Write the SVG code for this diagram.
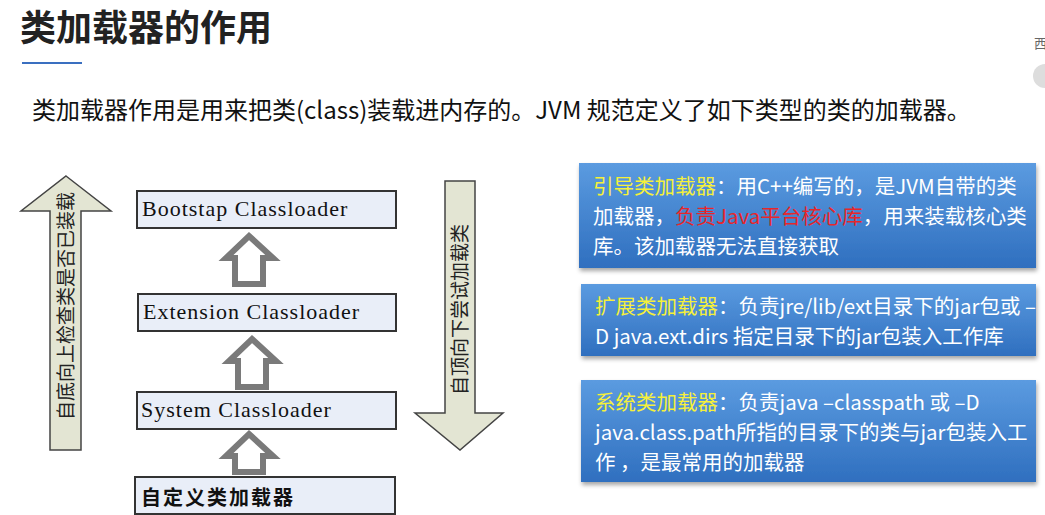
<svg xmlns="http://www.w3.org/2000/svg" width="1045" height="515" viewBox="0 0 1045 515">
<defs>
<linearGradient id="bg" x1="0" y1="0" x2="0" y2="1"><stop offset="0" stop-color="#5b9be0"/><stop offset="1" stop-color="#2f6fbf"/></linearGradient>
<filter id="sh" x="-5%" y="-10%" width="110%" height="130%"><feDropShadow dx="1" dy="3" stdDeviation="2" flood-color="#000" flood-opacity="0.35"/></filter>
</defs>
<style>
.cj{font-family:"Noto Sans CJK SC","Noto Sans",sans-serif}
.box{fill:#e9eef8;stroke:#333;stroke-width:2}
.lbl{font-family:"Liberation Serif",serif;font-size:22px;letter-spacing:1px;fill:#111}
.big{fill:#e3e5d3;stroke:#444;stroke-width:1.5}
.hol{fill:#fff;stroke:#7a7a7a;stroke-width:6;stroke-linejoin:miter}
.card{fill:url(#bg);filter:url(#sh)}
.ct{font-family:"Noto Sans CJK SC",sans-serif;font-size:20.5px;fill:#fff}
.y{fill:#f5f03a}
.r{fill:#e8262a}
</style>
<rect width="1045" height="515" fill="#fff"/>
<text x="20" y="41" class="cj" font-size="36" font-weight="bold" fill="#222">类加载器的作用</text>
<line x1="22" y1="63" x2="82" y2="63" stroke="#3a6fc0" stroke-width="2"/>
<text x="32" y="119" class="cj" font-size="24" fill="#111">类加载器作用是用来把类(class)装载进内存的。JVM 规范定义了如下类型的类的加载器。</text>
<text x="1034" y="48" class="cj" font-size="13" fill="#666">西</text>
<circle cx="1045" cy="76" r="12" fill="#ddd"/>
<g id="up-arrow">
<polygon class="big" points="66,176 111,211 81,211 81,450 50,450 50,211 21,211"/>
<text class="cj" font-size="19" fill="#222" transform="translate(73,420) rotate(-90)">自底向上检查类是否已装载</text>
</g>
<g id="down-arrow">
<polygon class="big" points="445,181 475,181 475,413 503,413 460,450 415,413 445,413"/>
<text class="cj" font-size="19" fill="#222" transform="translate(467,395) rotate(-90)">自顶向下尝试加载类</text>
</g>
<g id="bootstrap"><rect class="box" x="137" y="191" width="259" height="37"/><text class="lbl" x="142" y="216">Bootstap Classloader</text></g>
<g id="extension"><rect class="box" x="138" y="294" width="258" height="37"/><text class="lbl" x="143" y="319">Extension Classloader</text></g>
<g id="system"><rect class="box" x="137" y="392" width="259" height="37"/><text class="lbl" x="141" y="417">System Classloader</text></g>
<g id="custom"><rect class="box" x="135" y="477" width="260" height="37"/><text class="cj" x="141" y="505" font-size="20" font-weight="bold" letter-spacing="2" fill="#111">自定义类加载器</text></g>
<g id="connectors">
<polygon class="hol" points="249,236 273,258 263,258 263,284 235,284 235,258 226,258"/>
<polygon class="hol" points="252,339 276,361 266,361 266,387 238,387 238,361 229,361"/>
<polygon class="hol" points="249,434 273,456 263,456 263,472 235,472 235,456 226,456"/>
</g>
<g id="card-bootstrap">
<rect class="card" x="579" y="163" width="457" height="105"/>
<text class="ct" x="593" y="194"><tspan class="y">引导类加载器</tspan>：用C++编写的，是JVM自带的类</text>
<text class="ct" x="593" y="224">加载器，<tspan class="r">负责Java平台核心库</tspan>，用来装载核心类</text>
<text class="ct" x="593" y="254">库。该加载器无法直接获取</text>
</g>
<g id="card-ext">
<rect class="card" x="581" y="284" width="455" height="72"/>
<text class="ct" x="595" y="314"><tspan class="y">扩展类加载器</tspan>：负责jre/lib/ext目录下的jar包或 –</text>
<text class="ct" x="595" y="344">D java.ext.dirs 指定目录下的jar包装入工作库</text>
</g>
<g id="card-sys">
<rect class="card" x="581" y="380" width="455" height="102"/>
<text class="ct" x="595" y="410"><tspan class="y">系统类加载器</tspan>：负责java –classpath 或 –D</text>
<text class="ct" x="595" y="440">java.class.path所指的目录下的类与jar包装入工</text>
<text class="ct" x="595" y="470">作 ，是最常用的加载器</text>
</g>
</svg>
